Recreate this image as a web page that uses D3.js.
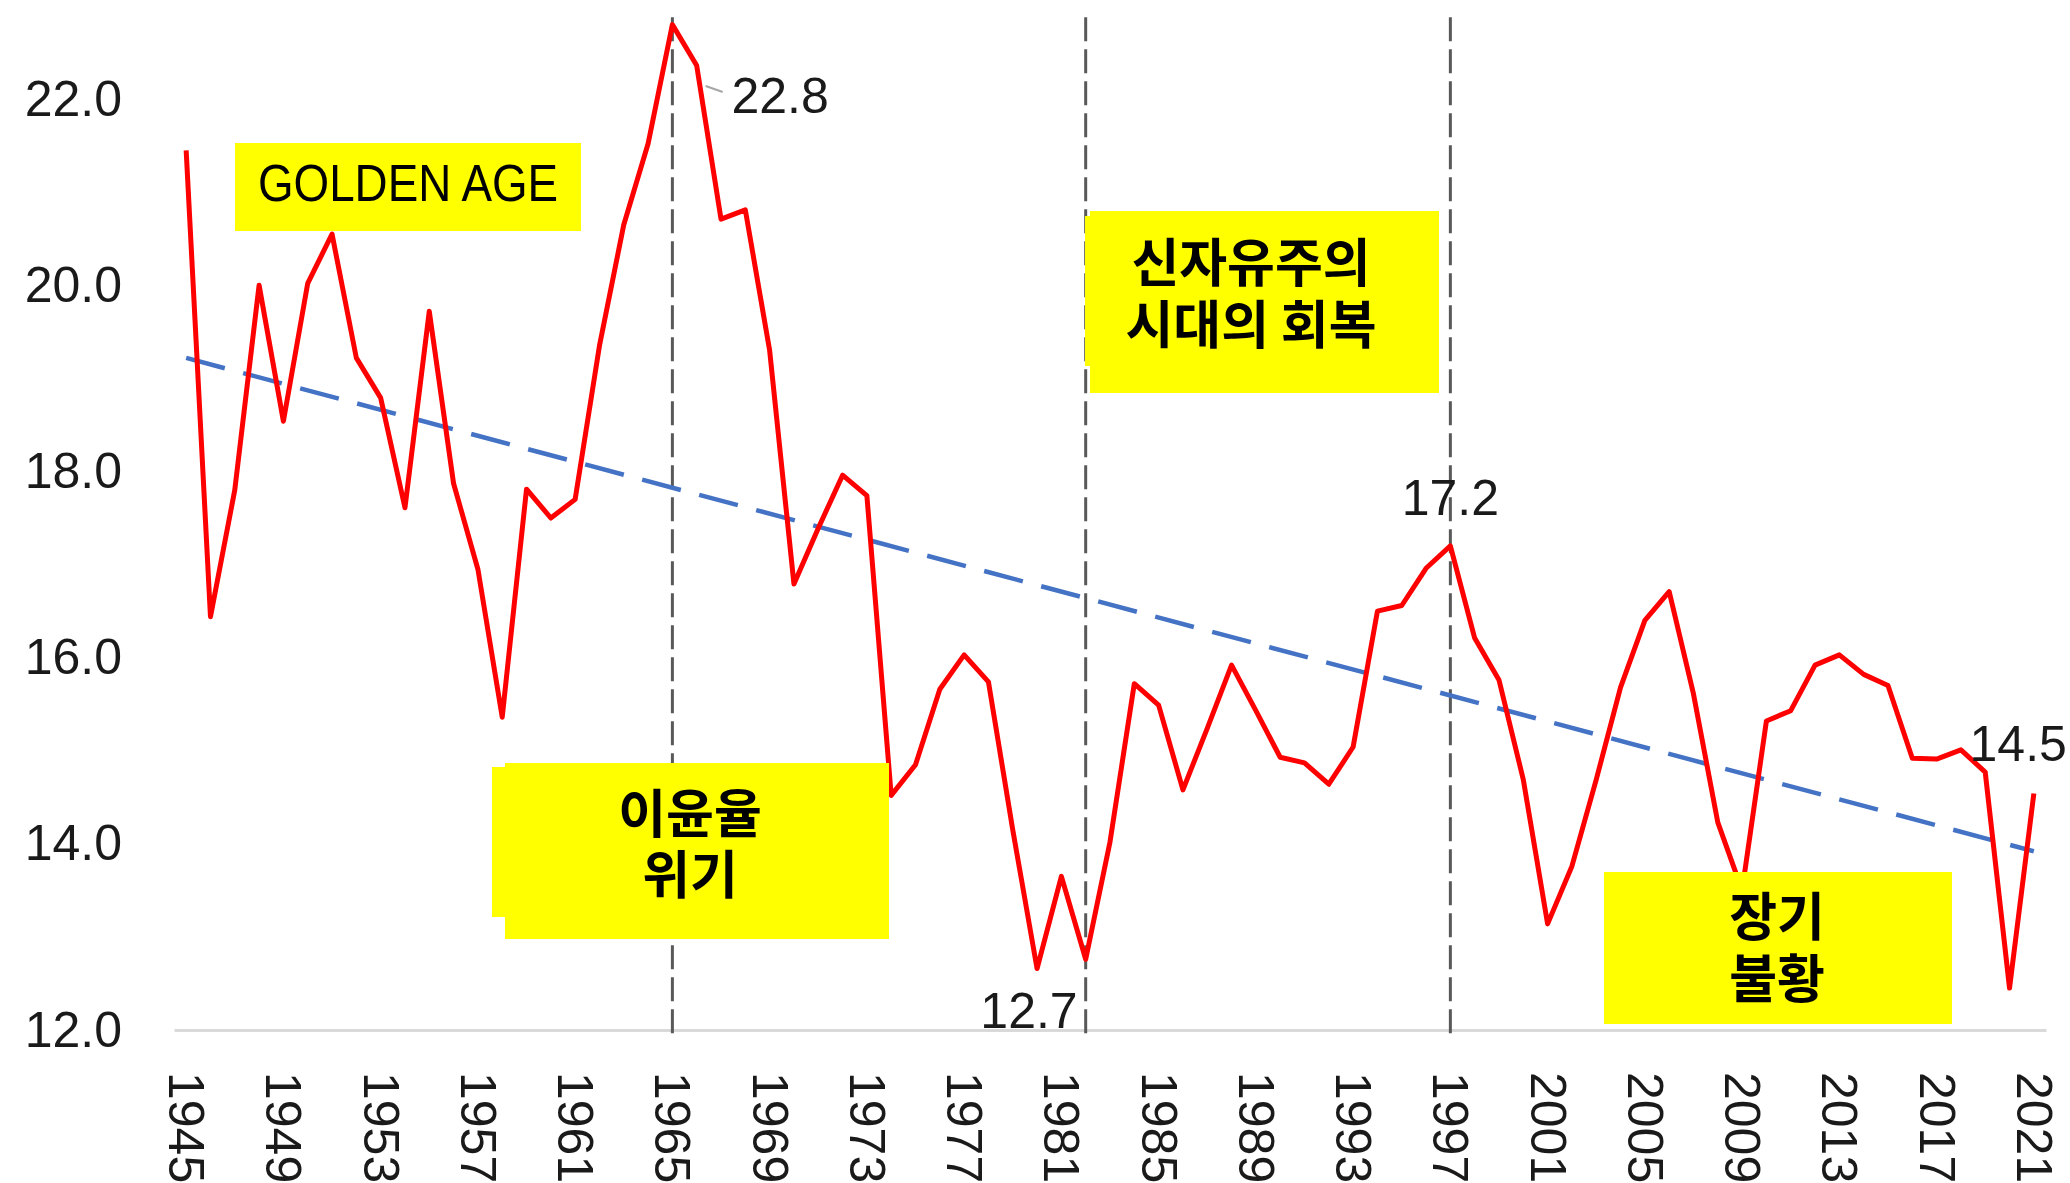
<!DOCTYPE html>
<html>
<head>
<meta charset="utf-8">
<script src="https://cdn.jsdelivr.net/npm/d3@7"></script>
<style>
  body { margin: 0; background: #fff; }
  svg { display: block; }
  .tick text { font-family: "Liberation Sans", Arial, sans-serif; font-size: 50px; fill: #1a1a1a; }
</style>
</head>
<body>
<svg id="chart" width="2070" height="1183"></svg>
<script>
// categories (years) and profit rate values
var years = d3.range(1945, 2022);
var profitRate = [
  21.45, 16.44, 17.8, 20.0, 18.54, 20.02, 20.55, 19.22, 18.79, 17.61,
  19.72, 17.87, 16.95, 15.36, 17.81, 17.5, 17.70, 19.35, 20.65, 21.52,
  22.8, 22.36, 20.71, 20.81, 19.30, 16.79, 17.39, 17.96, 17.74, 14.52,
  14.85, 15.66, 16.03, 15.74, 14.15, 12.66, 13.65, 12.76, 14.02, 15.72,
  15.49, 14.58, 15.24, 15.92, 15.43, 14.93, 14.87, 14.64, 15.04, 16.50,
  16.56, 16.96, 17.2, 16.21, 15.76, 14.69, 13.14, 13.76, 14.69, 15.68,
  16.40, 16.71, 15.61, 14.23, 13.5, 15.32, 15.43, 15.92, 16.03, 15.82,
  15.70, 14.92, 14.91, 15.01, 14.77, 12.45, 14.54
];

// linear trend, start and end value (1945, 2021)
var trendYears = [1945, 2021];
var trendValues = [19.22, 13.92];

var yTicks = [12, 14, 16, 18, 20, 22];
var xTickYears = d3.range(1945, 2022, 4);

// period dividers
var dividerYears = [1965, 1982, 1997];

// point labels
var pointLabels = [
  { year: 1965, text: "22.8" },
  { year: 1982, text: "12.7" },
  { year: 1997, text: "17.2" },
  { year: 2021, text: "14.5" }
];

var periodNames = [
  ["GOLDEN AGE"],
  ["이윤율", "위기"],
  ["신자유주의", "시대의 회복"],
  ["장기", "불황"]
];

var data = years.map(function (y, i) { return { year: y, value: profitRate[i] }; });

var svg = d3.select("#chart");

var x = d3.scalePoint()
    .domain(years)
    .range([174, 2046])
    .padding(0.5);

var y = d3.scaleLinear()
    .domain([12, 23])
    .range([1030, 6]);

// y axis (labels only)
var yAxis = svg.append("g")
    .attr("transform", "translate(174,0)")
    .call(d3.axisLeft(y).tickValues(yTicks).tickFormat(d3.format(".1f")).tickSize(0).tickPadding(52));
yAxis.select(".domain").remove();

// x axis, baseline in light grey, rotated year labels
var xAxis = svg.append("g")
    .attr("transform", "translate(0," + y(12) + ")")
    .call(d3.axisBottom(x).tickValues(xTickYears).tickSize(0).tickSizeOuter(0));
xAxis.select(".domain")
    .attr("stroke", "#d9d9d9")
    .attr("stroke-width", 3);
xAxis.selectAll(".tick text")
    .attr("transform", "rotate(90)")
    .attr("x", 42)
    .attr("y", 0)
    .attr("dy", "0.35em")
    .style("text-anchor", "start");

// vertical dashed dividers
svg.append("g")
  .selectAll("line")
  .data(dividerYears)
  .enter().append("line")
    .attr("x1", function (d) { return x(d); })
    .attr("x2", function (d) { return x(d); })
    .attr("y1", y(22.88))
    .attr("y2", y(11.92))
    .attr("stroke", "#595959")
    .attr("stroke-width", 3)
    .attr("stroke-dasharray", "24,8");

// trend line
svg.append("line")
    .attr("x1", x(trendYears[0]))
    .attr("y1", y(trendValues[0]))
    .attr("x2", x(trendYears[1]))
    .attr("y2", y(trendValues[1]))
    .attr("stroke", "#4472c4")
    .attr("stroke-width", 4.5)
    .attr("stroke-dasharray", "40,19");

// profit rate line
var line = d3.line()
    .x(function (d) { return x(d.year); })
    .y(function (d) { return y(d.value); });

svg.append("path")
    .datum(data)
    .attr("fill", "none")
    .attr("stroke", "#ff0000")
    .attr("stroke-width", 5)
    .attr("stroke-linejoin", "round")
    .attr("d", line);

// point labels
var labelPos = {
  1965: { dx: 59, dy: 88, anchor: "start" },
  1982: { dx: -8, dy: 69, anchor: "end" },
  1997: { dx: 0, dy: -31, anchor: "middle" },
  2021: { dx: 33, dy: -33, anchor: "end" }
};
function valueOf(yr) { return profitRate[years.indexOf(yr)]; }

svg.append("line")
    .attr("x1", x(1966) + 9).attr("y1", 86)
    .attr("x2", x(1966) + 26).attr("y2", 92)
    .attr("stroke", "#a6a6a6")
    .attr("stroke-width", 2);

svg.append("g")
  .selectAll("text")
  .data(pointLabels)
  .enter().append("text")
    .attr("x", function (d) { return x(d.year) + labelPos[d.year].dx; })
    .attr("y", function (d) { return y(valueOf(d.year)) + labelPos[d.year].dy; })
    .attr("text-anchor", function (d) { return labelPos[d.year].anchor; })
    .style("font-family", "'Liberation Sans', Arial, sans-serif")
    .style("font-size", "50px")
    .style("fill", "#1a1a1a")
    .text(function (d) { return d.text; });

// period boxes (yellow), some are two overlapping shapes
var boxes = [
  { rects: [[235, 143, 346, 88]], cx: 408, lines: [201], size: 51, bold: false, latin: true, len: 300 },
  { rects: [[505, 763, 384, 176], [492, 767, 397, 150]], cx: 690, lines: [833, 894], size: 52, bold: true },
  { rects: [[1090, 211, 349, 182], [1085, 216, 354, 150]], cx: 1251, lines: [282, 344], size: 52, bold: true },
  { rects: [[1604, 872, 348, 152]], cx: 1777, lines: [936, 998], size: 52, bold: true }
];

boxes.forEach(function (b, i) {
  var g = svg.append("g");
  b.rects.forEach(function (r) {
    g.append("rect")
        .attr("x", r[0]).attr("y", r[1])
        .attr("width", r[2]).attr("height", r[3])
        .attr("fill", "#ffff00");
  });
  var t = g.append("text")
      .attr("text-anchor", "middle")
      .style("font-family", b.latin ? "'Liberation Sans', Arial, sans-serif" : "'Noto Sans CJK KR', sans-serif")
      .style("font-weight", b.bold ? "bold" : "normal")
      .style("font-size", b.size + "px")
      .style("fill", "#000");
  periodNames[i].forEach(function (s, j) {
    var ts = t.append("tspan")
        .attr("x", b.cx)
        .attr("y", b.lines[j])
        .text(s);
    if (b.len) ts.attr("textLength", b.len).attr("lengthAdjust", "spacingAndGlyphs");
  });
});
</script>
</body>
</html>
